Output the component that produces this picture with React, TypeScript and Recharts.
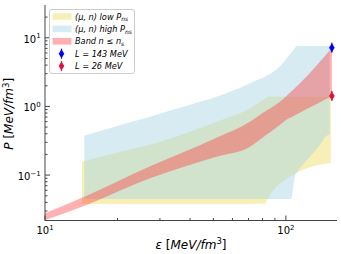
import React from 'react';
import { ComposedChart, Area, Scatter, XAxis, YAxis, Legend } from 'recharts';

// (mu, n) low P_ns band
const lowX = [14.24, 20, 30, 51.5, 70.9, 82, 83.4, 84.4, 88.9, 99.3, 112.9, 128.2, 153.7];
const lowMin = [0.0379, 0.0379, 0.0379, 0.0379, 0.0379, 0.0384, 0.0435, 0.046, 0.0607, 0.0848, 0.112, 0.1325, 0.1515];
const lowMax = [0.157, 0.213, 0.306, 0.598, 0.94, 1.3, 1.35, 1.38, 1.38, 1.38, 1.38, 1.38, 1.38];

// (mu, n) high P_ns band
const highX = [14.56, 20, 27.3, 40, 51.5, 70.9, 94.4, 105.2, 109.3, 110.7, 112.9, 124.2, 136.7, 149.4, 152];
const highMin = [0.045, 0.045, 0.045, 0.045, 0.045, 0.045, 0.045, 0.045, 0.1003, 0.107, 0.1186, 0.1756, 0.259, 0.3835, 0.39];
const highMax = [0.375, 0.52, 0.708, 1.06, 1.38, 2.17, 3.85, 6.07, 7.16, 7.57, 7.57, 7.57, 7.57, 7.57, 7.57];

// band n <= n_s
const bandX = [10, 14.5, 27.3, 51.5, 70.9, 80, 94.4, 100, 107.2, 125, 155.2];
const bandMin = [0.0222, 0.0355, 0.0897, 0.185, 0.259, 0.35, 0.535, 0.634, 0.72, 0.955, 1.42];
const bandMax = [0.0278, 0.048, 0.134, 0.35, 0.598, 0.8, 1.17, 1.4, 1.75, 3.0, 7.15];

// single points
const pointLabels = ['L = 143 MeV', 'L = 26 MeV'];
const pointX = [155.2, 155.2];
const pointY = [7.15, 1.42];

const xTicks = [10, 20, 30, 40, 50, 60, 70, 80, 90, 100];
const yTicks = [0.03, 0.04, 0.05, 0.06, 0.07, 0.08, 0.09, 0.1, 0.2, 0.3, 0.4, 0.5, 0.6, 0.7, 0.8, 0.9, 1, 2, 3, 4, 5, 6, 7, 8, 9, 10, 20];

const font = 'DejaVu Sans';
const frame = '#444';
const YELLOW = '#eedc5b';
const BLUE = '#add8e6';
const RED = '#ff3030';
const PT_COLORS = ['#0000ff', '#dc143c'];

const lowData = lowX.map((x, i) => ({ x, r: [lowMin[i], lowMax[i]] }));
const highData = highX.map((x, i) => ({ x, r: [highMin[i], highMax[i]] }));
const bandData = bandX.map((x, i) => ({ x, r: [bandMin[i], bandMax[i]] }));
const ptData = pointX.map((x, i) => [{ x, y: pointY[i] }]);

const isMajor = (v: number) => Math.abs(Math.log10(v) - Math.round(Math.log10(v))) < 1e-6;
const expOf = (v: number) => {
  const e = Math.round(Math.log10(v));
  return e < 0 ? '\u2212' + -e : String(e);
};

const BottomTick = (p: any) => {
  const { x, y, payload } = p;
  const major = isMajor(payload.value);
  return (
    <g>
      <line x1={x} x2={x} y1={y} y2={y - (major ? 5 : 2.5)} stroke={frame} />
      {major && (
        <text x={x} y={y + 13.5} textAnchor="middle" fontSize={10} fontFamily={font} fill="#000">
          10<tspan dy={-4.5} fontSize={7}>{expOf(payload.value)}</tspan>
        </text>
      )}
    </g>
  );
};

const TopTick = (p: any) => {
  const { x, y, payload } = p;
  const major = isMajor(payload.value);
  return <line x1={x} x2={x} y1={y} y2={y + (major ? 5 : 2.5)} stroke={frame} />;
};

const LeftTick = (p: any) => {
  const { x, y, payload } = p;
  const major = isMajor(payload.value);
  return (
    <g>
      <line x1={x} x2={x + (major ? 5 : 2.5)} y1={y} y2={y} stroke={frame} />
      {major && (
        <text x={x - 4.3} y={y + 5} textAnchor="end" fontSize={10} fontFamily={font} fill="#000">
          10<tspan dy={-4.5} fontSize={7}>{expOf(payload.value)}</tspan>
        </text>
      )}
    </g>
  );
};

const RightTick = (p: any) => {
  const { x, y, payload } = p;
  const major = isMajor(payload.value);
  return <line x1={x} x2={x - (major ? 5 : 2.5)} y1={y} y2={y} stroke={frame} />;
};

const Diamond = (p: any) => {
  const { cx, cy, fill } = p;
  return (
    <g>
      <line x1={cx} x2={cx} y1={cy - 5} y2={cy + 5} stroke={fill} strokeWidth={1.2} />
      <polygon points={`${cx},${cy - 4.5} ${cx + 2.8},${cy} ${cx},${cy + 4.5} ${cx - 2.8},${cy}`} fill={fill} />
    </g>
  );
};

const legendRows = [
  { kind: 'patch', color: YELLOW, op: 0.45, text: '(\u03bc, n) low P', sub: 'ns' },
  { kind: 'patch', color: BLUE, op: 0.5, text: '(\u03bc, n) high P', sub: 'ns' },
  { kind: 'patch', color: RED, op: 0.38, text: 'Band n \u2264 n', sub: 's' },
  { kind: 'pt', color: PT_COLORS[0], text: pointLabels[0] },
  { kind: 'pt', color: PT_COLORS[1], text: pointLabels[1] },
];

const LegendBox = () => (
  <svg width={87} height={66} style={{ display: 'block' }}>
    <rect x={0.5} y={0.5} width={85} height={64} rx={2.5} fill="#fff" fillOpacity={0.8} stroke="#ccc" />
    {legendRows.map((r, i) => {
      const cy = 7.5 + i * 12.4;
      return (
        <g key={i}>
          {r.kind === 'patch' ? (
            <rect x={3.5} y={cy - 3.3} width={19} height={6.6} fill={r.color} fillOpacity={r.op} />
          ) : (
            <Diamond cx={12.5} cy={cy} fill={r.color} />
          )}
          <text x={26} y={cy + 3} fontSize={8.2} fontStyle="italic" fontFamily={font} fill="#000">
            {r.text}
            {r.sub && <tspan dy={1.8} fontSize={6}>{r.sub}</tspan>}
          </text>
        </g>
      );
    })}
  </svg>
);

const XLabel = (p: any) => {
  const { x, y, width } = p.viewBox;
  return (
    <text x={x + width / 2} y={y + 28} textAnchor="middle" fontSize={12} fontFamily={font} fill="#000">
      <tspan fontStyle="italic">{'\u03b5'}</tspan> [<tspan fontStyle="italic">MeV/fm</tspan>
      <tspan dy={-5} fontSize={8.5}>3</tspan>
      <tspan dy={5}>]</tspan>
    </text>
  );
};

const YLabel = (p: any) => {
  const { y, height } = p.viewBox;
  const cx = 12.5;
  const cy = y + height / 2 + 1;
  return (
    <text x={cx} y={cy} transform={`rotate(-90 ${cx} ${cy})`} textAnchor="middle" fontSize={12} fontFamily={font} fill="#000">
      <tspan fontStyle="italic">P</tspan> [<tspan fontStyle="italic">MeV/fm</tspan>
      <tspan dy={-4} fontSize={8.5}>3</tspan>
      <tspan dy={4}>]</tspan>
    </text>
  );
};

const App = () => (
  <div style={{ position: 'absolute', left: 0, top: 0, background: '#fff' }}>
    <ComposedChart width={341} height={254} margin={{ top: 5, right: 4, bottom: 3.5, left: 5 }}>
      <XAxis
        dataKey="x"
        type="number"
        scale="log"
        domain={[10, 163]}
        allowDataOverflow
        ticks={xTicks}
        interval={0}
        tickSize={0}
        tickMargin={0}
        tickLine={false}
        axisLine={{ stroke: frame }}
        tick={BottomTick}
        height={30}
        label={XLabel}
      />
      <XAxis
        xAxisId="top"
        orientation="top"
        dataKey="x"
        type="number"
        scale="log"
        domain={[10, 163]}
        allowDataOverflow
        ticks={xTicks}
        interval={0}
        tickSize={0}
        tickMargin={0}
        tickLine={false}
        axisLine={{ stroke: frame }}
        tick={TopTick}
        height={0}
      />
      <YAxis
        type="number"
        scale="log"
        domain={[0.0218, 30]}
        allowDataOverflow
        ticks={yTicks}
        interval={0}
        tickSize={0}
        tickMargin={0}
        tickLine={false}
        axisLine={{ stroke: frame }}
        tick={LeftTick}
        width={40}
        label={YLabel}
      />
      <YAxis
        yAxisId="right"
        orientation="right"
        type="number"
        scale="log"
        domain={[0.0218, 30]}
        allowDataOverflow
        ticks={yTicks}
        interval={0}
        tickSize={0}
        tickMargin={0}
        tickLine={false}
        axisLine={{ stroke: frame }}
        tick={RightTick}
        width={0}
      />
      <Area data={lowData} dataKey="r" type="monotone" stroke="none" fill={YELLOW} fillOpacity={0.45} dot={false} activeDot={false} isAnimationActive={false} />
      <Area data={highData} dataKey="r" type="monotone" stroke="none" fill={BLUE} fillOpacity={0.5} dot={false} activeDot={false} isAnimationActive={false} />
      <Area data={bandData} dataKey="r" type="monotone" stroke="none" fill={RED} fillOpacity={0.38} dot={false} activeDot={false} isAnimationActive={false} />
      {ptData.map((d, i) => (
        <Scatter key={i} data={d} dataKey="y" fill={PT_COLORS[i]} shape={Diamond} isAnimationActive={false} />
      ))}
      <Legend layout="vertical" align="center" verticalAlign="middle" wrapperStyle={{ left: 49, top: 9, width: 87 }} content={LegendBox} />
    </ComposedChart>
  </div>
);

export default App;
